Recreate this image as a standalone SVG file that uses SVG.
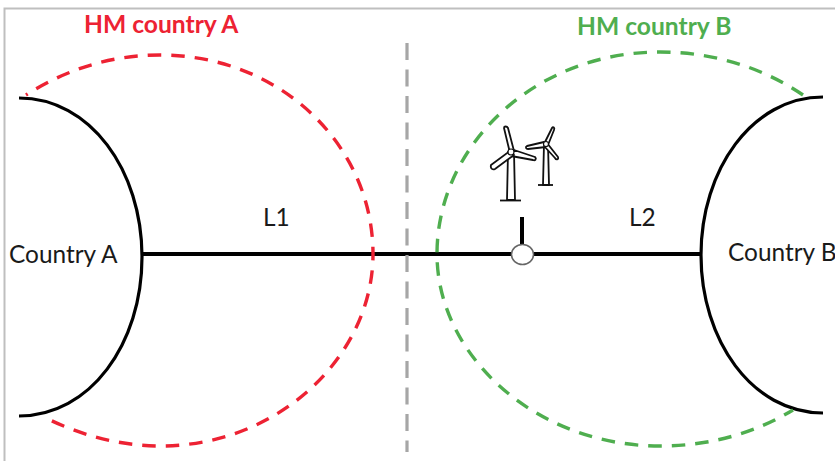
<svg xmlns="http://www.w3.org/2000/svg" width="835" height="461" viewBox="0 0 835 461">
<style>
text{font-family:Lato,"Open Sans","Liberation Sans",sans-serif}
.lb{font-size:24.4px;fill:#1a1a1a}
.hm{font-size:24.600px;font-weight:700}
.k{fill:none;stroke:#000;stroke-width:3.200}
.d{fill:none;stroke-width:3.4;stroke-dasharray:13.500 10}
.t{fill:#fff;stroke:#111;stroke-width:1.800;stroke-linejoin:round}
</style>
<rect width="835" height="461" fill="#fff"/>
<path d="M4.500 461V8.500H835" fill="none" stroke="#bfbfbf" stroke-width="2"/>
<g id="connectors">
<path d="M142 254H701" fill="none" stroke="#000" stroke-width="4"/>
<path d="M522 217V245" fill="none" stroke="#000" stroke-width="4"/>
<path d="M407 43V452" fill="none" stroke="#a6a6a6" stroke-width="3.200" stroke-dasharray="17 9.500"/>
</g>
<g id="country-a">
<path class="k" d="M19 98C90 98 142 170 142 257C142 344 90 416 19 416"/>
<text class="lb" x="9" y="263">Country A</text>
</g>
<g id="country-b">
<path class="k" d="M823 97C752 97 701 170 701 255C701 340 752 413 823 413"/>
<text class="lb" x="728" y="261">Country B</text>
</g>
<g id="hm-a">
<path class="d" stroke="#ed2233" stroke-dashoffset="11.500" d="M26 95C65 70 110 55 160 55C280 55 373 145 373 254C373 355 280 446 160 446C120 446 80 435 46 418"/>
<text class="hm" x="84" y="33" fill="#ed2233">HM country A</text>
</g>
<g id="hm-b">
<path class="d" stroke="#4fae4f" d="M803 95C762 67 712 52 660 52C535 52 437 145 437 254C437 355 535 446 660 446C710 446 755 433 793 410"/>
<text class="hm" x="577" y="35" fill="#4fae4f">HM country B</text>
</g>
<g id="l1"><text class="lb" x="263" y="226">L1</text></g>
<g id="l2"><text class="lb" x="629" y="226">L2</text></g>
<g id="junction"><ellipse cx="522.500" cy="254.500" rx="11" ry="10" fill="#fff" stroke="#666" stroke-width="1.500"/></g>
<g id="turbine-large">
<path d="M500 200.500H521" fill="none" stroke="#111" stroke-width="1.800"/>
<path class="t" d="M508 152H514L515 200H507Z"/>
<path class="t" d="M510 153L504 128C504 126 507 126 508 128L514 151Z"/>
<path class="t" d="M514 150L535 157C537 159 535 161 533 160L511 156Z"/>
<path class="t" d="M510 151L491 165C490 169 493 170 495 169L514 155Z"/>
<circle cx="511" cy="152" r="3" fill="#fff" stroke="#111" stroke-width="1.200"/>
</g>
<g id="turbine-small">
<path d="M538 185H553" fill="none" stroke="#111" stroke-width="1.800"/>
<path class="t" d="M544 144H548L549 185H543Z"/>
<path class="t" d="M545 142L552 128C553 126 555 128 554 130L548 145Z"/>
<path class="t" d="M544 142L527 146C525 147 526 149 528 149L546 147Z"/>
<path class="t" d="M547 143L558 157C559 160 556 160 555 158L544 146Z"/>
<circle cx="546" cy="144" r="2.500" fill="#fff" stroke="#111" stroke-width="1.200"/>
</g>
</svg>
